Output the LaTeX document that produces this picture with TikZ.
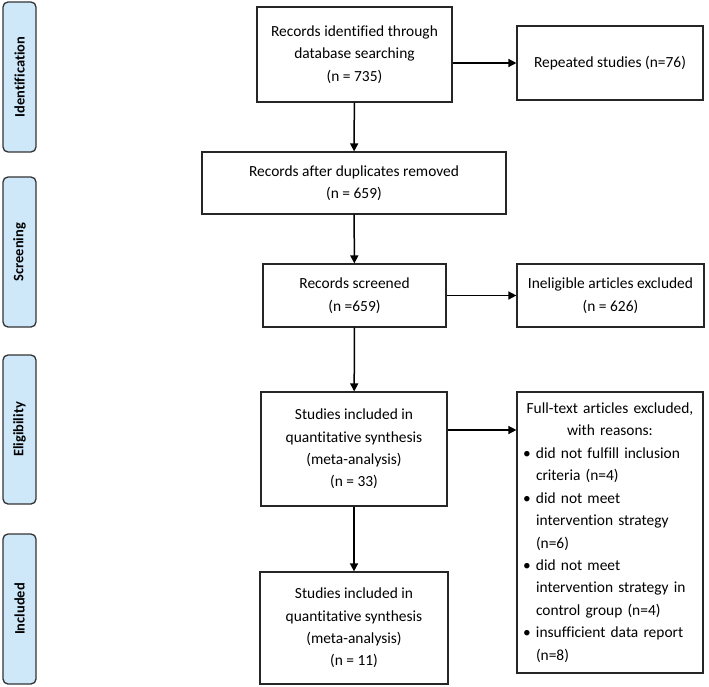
\documentclass[tikz,border=0pt]{standalone}
\usepackage{fontspec}
\setmainfont{Carlito}[Ligatures=NoCommon]
\usetikzlibrary{arrows.meta}
\definecolor{stagefill}{RGB}{206,232,250}
\begin{document}
\begin{tikzpicture}[x=1bp,y=-1bp,
  stage/.style={draw=black!80,line width=1.3bp,fill=stagefill,rounded corners=5bp,rotate=90,
    minimum width=150bp,minimum height=33bp,inner sep=0pt,font=\fontsize{14.5}{18}\selectfont\bfseries},
  stepbox/.style={draw=black!85,line width=1.2bp,inner sep=0pt,align=center,
    font=\fontsize{15.5}{22.5}\selectfont},
  flow/.style={-{Triangle[length=8bp,width=8bp]},line width=1.5bp}]
\useasboundingbox (0,0) rectangle (709,687);
\node[stage] (ident) at (19.5,77) {Identification};
\node[stage] (screen) at (19.5,252) {Screening};
\node[stage,minimum width=149bp] (elig) at (19.5,429.5) {Eligibility};
\node[stage] (incl) at (19.5,609) {Included};
\node[stepbox,minimum width=195bp,minimum height=95bp] (found) at (354.5,54.5) {Records identified through\\database searching\\(n = 735)};
\node[stepbox,minimum width=186bp,minimum height=74bp] (repeat) at (610,63) {Repeated studies (n=76)};
\node[stepbox,minimum width=304bp,minimum height=62bp] (dedup) at (354,183) {Records after duplicates removed\\(n = 659)};
\node[stepbox,minimum width=183bp,minimum height=63bp] (screened) at (354.5,295.5) {Records screened\\(n =659)};
\node[stepbox,minimum width=187bp,minimum height=63bp] (inelig) at (610.5,295.5) {Ineligible articles excluded\\(n = 626)};
\node[stepbox,minimum width=186bp,minimum height=114bp] (quant) at (354,449) {Studies included in\\quantitative synthesis\\(meta-analysis)\\(n = 33)};
\node[stepbox,minimum width=186bp,minimum height=281bp,align=left,text width=174bp] (fulltext) at (610,532.5) {%
\makebox[174bp]{Full-text articles excluded,}\\
\makebox[174bp]{with reasons:}\\
\makebox[13bp][l]{\textbullet}did not fulfill inclusion\\
\hspace*{13bp}criteria (n=4)\\
\makebox[13bp][l]{\textbullet}did not meet\\
\hspace*{13bp}intervention strategy\\
\hspace*{13bp}(n=6)\\
\makebox[13bp][l]{\textbullet}did not meet\\
\hspace*{13bp}intervention strategy in\\
\hspace*{13bp}control group (n=4)\\
\makebox[13bp][l]{\textbullet}insufficient data report\\
\hspace*{13bp}(n=8)};
\node[stepbox,minimum width=188bp,minimum height=112bp] (meta) at (354,628) {Studies included in\\quantitative synthesis\\(meta-analysis)\\(n = 11)};
\draw[flow] (found) -- (dedup);
\draw[flow] (dedup) -- (screened);
\draw[flow] (screened) -- (quant);
\draw[flow] (quant) -- (meta);
\draw[flow] (found.east |- repeat.west) -- (repeat.west);
\draw[flow] (screened) -- (inelig);
\draw[flow] ([yshift=19bp]quant.east) -- ([yshift=19bp]quant.east -| fulltext.west);
\end{tikzpicture}
\end{document}
